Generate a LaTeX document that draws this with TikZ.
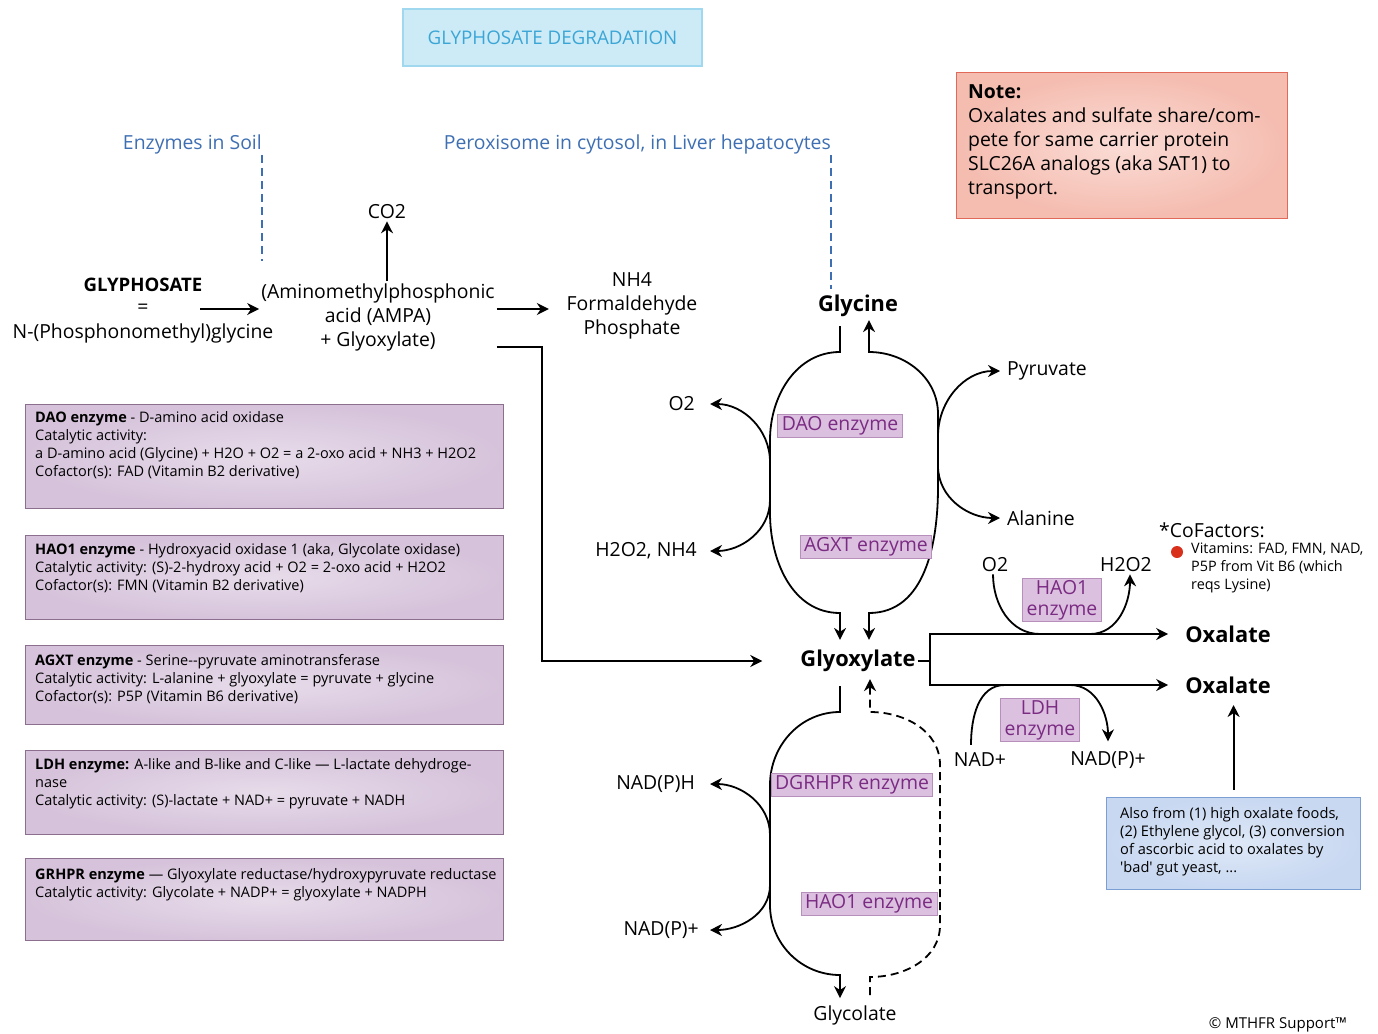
\documentclass[tikz,border=0pt]{standalone}
\usepackage{fontspec}
\setmainfont{Open Sans}
\usetikzlibrary{arrows.meta,positioning}

\definecolor{titlefill}{HTML}{CDEBF7}
\definecolor{titledraw}{HTML}{9FD8EF}
\definecolor{titletext}{HTML}{3BA6D6}
\definecolor{soilblue}{HTML}{3E6FB3}
\definecolor{notein}{HTML}{FADCD5}
\definecolor{noteout}{HTML}{F5BCB0}
\definecolor{notedraw}{HTML}{E0695A}
\definecolor{infoin}{HTML}{E7DCEA}
\definecolor{infoout}{HTML}{D6C3DB}
\definecolor{infodraw}{HTML}{8C6E8F}
\definecolor{enzfill}{HTML}{DCC0E0}
\definecolor{enzdraw}{HTML}{B78FBB}
\definecolor{enztext}{HTML}{7A2B82}
\definecolor{srcin}{HTML}{DEE8F7}
\definecolor{srcout}{HTML}{C8D8F1}
\definecolor{srcdraw}{HTML}{7C9FD3}
\definecolor{dotred}{HTML}{D9301C}

\newcommand\fsmain{\fontsize{19.4}{24}\selectfont}
\newcommand\fsenz{\fontsize{19.4}{21}\selectfont}
\newcommand\fsbold{\fontsize{21.8}{24}\selectfont\bfseries}
\newcommand\fsinfo{\fontsize{14.5}{18}\selectfont}
\newcommand\fssmall{\fontsize{14.4}{18}\selectfont}
\newcommand\fstitle{\fontsize{18.8}{20}\selectfont}

\begin{document}
\begin{tikzpicture}[x=1pt,y=1pt]
	\tikzset{arr/.style={-{Stealth[length=12pt,width=12pt]}, line width=1.8pt}}
	\tikzset{dblarr/.style={{Stealth[length=12pt,width=12pt]}-{Stealth[length=12pt,width=12pt]}, line width=1.8pt}}
	\tikzset{dashline/.style={soilblue, line width=1.2pt, dash pattern=on 8pt off 5pt}}
	\tikzset{chem/.style={font=\fsmain, inner sep=2pt}}
	\tikzset{mol/.style={font=\fsbold, inner sep=2pt}}
	\tikzset{enzbox/.style={draw=enzdraw, fill=enzfill, text=enztext, font=\fsenz,
				line width=1pt, inner xsep=4pt, inner ysep=2pt, align=center}}
	\tikzset{infobox/.style={draw=infodraw, inner color=infoin, outer color=infoout, line width=1.2pt,
				minimum width=478, anchor=north west}}
	\tikzset{infotext/.style={font=\fsinfo, align=left, anchor=north west, inner sep=0pt}}
	\tikzset{region/.style={font=\fsmain, text=soilblue, inner sep=1pt}}

	\useasboundingbox (0,0) rectangle (1378,-1033);

	% title and regions
	\node[draw=titledraw, fill=titlefill, text=titletext, font=\fstitle, line width=1.2pt,
		minimum width=299, minimum height=57] (title) at (552.5,-37.5) {GLYPHOSATE DEGRADATION};
	\node[region, anchor=east] (soil) at (263,-144) {Enzymes in Soil};
	\node[region, anchor=east] (perox) at (832,-144) {Peroxisome in cytosol, in Liver hepatocytes};
	\draw[dashline] ([xshift=-1]soil.south east) -- ++(0,-106);
	\draw[dashline] ([xshift=-1]perox.south east) -- ++(0,-134);

	% note
	\node[draw=notedraw, inner color=notein, outer color=noteout, line width=1.2pt,
		minimum width=331, minimum height=146, anchor=north west] (note) at (956,-72) {};
	\node[font=\fsmain, align=left, anchor=north west, inner sep=0pt] (notetxt)
		at ([xshift=12,yshift=-12]note.north west)
		{\textbf{Note:}\\Oxalates and sulfate share/com-\\pete for same carrier protein\\SLC26A analogs (aka SAT1) to\\transport.};

	% glyphosate to AMPA
	\node[chem, font=\fontsize{18.6}{24}\selectfont\bfseries] (glyph) at (143,-285) {GLYPHOSATE};
	\node[chem] (eqs) at (143,-309) {=};
	\node[chem] (nphos) at (143,-333) {N-(Phosphonomethyl)glycine};
	\node[chem, align=center] (ampa) at (378,-317) {(Aminomethylphosphonic\\acid (AMPA)\\+ Glyoxylate)};
	\node[chem] (co2) at (387,-212) {CO2};
	\node[chem, align=center] (prods) at (632,-306) {NH4\\Formaldehyde\\Phosphate};
	\coordinate (gstart) at (200,-309);
	\draw[arr] (gstart) -- (gstart -| ampa.west);
	\draw[arr] (ampa.north -| co2) -- (co2);
	\draw[arr] ([yshift=8]ampa.east) -- ++(52,0);

	% main molecules
	\node[mol] (glycine) at (858,-306) {Glycine};
	\node[mol] (glyox) at (858,-661) {Glyoxylate};
	\node[chem] (glycol) at (855,-1015) {Glycolate};
	\draw[arr] ([yshift=-30]ampa.east) -- ++(45,0) |- ([xshift=-36]glyox.west);

	% upper loop
	\draw[arr] ([xshift=-18,yshift=-7]glycine.south) -- (840,-352) to[out=180,in=90] (770,-440)
		-- (770,-513) to[out=-90,in=180] (840,-613) -- ([xshift=-18,yshift=8]glyox.north);
	\draw[dblarr] ([xshift=11,yshift=8]glyox.north) -- (869,-613) to[out=0,in=-90] (938,-487)
		-- (938,-414) to[out=90,in=0] (869,-352) -- ([xshift=11,yshift=-1]glycine.south);
	\node[enzbox] (dao) at (840,-426) {DAO enzyme};
	\node[enzbox] (agxt) at (866,-547) {AGXT enzyme};

	\node[chem, anchor=east] (o2a) at (697,-404) {O2};
	\node[chem, anchor=east] (hnh) at (699,-551) {H2O2, NH4};
	\node[chem, anchor=west] (pyr) at (1005,-371) {Pyruvate};
	\node[chem, anchor=west] (ala) at (1005,-518) {Alanine};
	\coordinate (ul1) at (770,-462);
	\coordinate (ul2) at (770,-500);
	\coordinate (ur1) at (938,-436);
	\coordinate (ur2) at (938,-466);
	\draw[arr] (ul1) to[out=90,in=0] ([xshift=13]o2a.east);
	\draw[arr] (ul2) to[out=-90,in=0] ([xshift=11]hnh.east);
	\draw[arr] (ur1) to[out=90,in=180] ([xshift=-5]pyr.west);
	\draw[arr] (ur2) to[out=-90,in=180] ([xshift=-5]ala.west);

	% lower loop
	\draw[arr] ([xshift=-18,yshift=-12]glyox.south) -- (840,-712) to[out=180,in=90] (770,-785)
		-- (770,-905) to[out=-90,in=180] (840,-975) -- ([xshift=-15,yshift=5]glycol.north);
	\draw[arr, dash pattern=on 8pt off 5pt] ([xshift=15,yshift=8]glycol.north) -- (870,-977)
		to[out=0,in=-90] (940,-925) -- (940,-765) to[out=90,in=0] (870,-712)
		-- ([xshift=12,yshift=-5]glyox.south);
	\node[enzbox] (dgrhpr) at (852,-785) {DGRHPR enzyme};
	\node[enzbox] (haoa) at (869,-904) {HAO1 enzyme};

	\node[chem, anchor=east] (nadph) at (697,-784) {NAD(P)H};
	\node[chem, anchor=east] (nadpa) at (701,-930) {NAD(P)+};
	\coordinate (ll1) at (770,-835);
	\coordinate (ll2) at (770,-885);
	\draw[arr] (ll1) to[out=90,in=0] ([xshift=13]nadph.east);
	\draw[arr] (ll2) to[out=-90,in=0] ([xshift=9]nadpa.east);

	% oxalate branches
	\node[mol] (oxa) at (1228,-634) {Oxalate};
	\node[mol] (oxb) at (1228,-685) {Oxalate};
	\coordinate (fork) at (930,-661);
	\draw[line width=1.8pt] (glyox.east) -- (fork);
	\draw[arr] (fork) |- ([xshift=-15]oxa.west);
	\draw[arr] (fork) |- ([xshift=-15]oxb.west);

	\node[chem] (o2b) at (995,-565) {O2};
	\node[chem] (h2o2b) at (1126,-565) {H2O2};
	\node[chem] (nadp) at (980,-760) {NAD+};
	\node[chem] (nadpb) at (1108,-760) {NAD(P)+};
	\draw[arr] ([xshift=-2]o2b.south) to[out=-90,in=180] (1040,0 |- oxa.west) -- (1090,0 |- oxa.west)
		to[out=0,in=-90] ([xshift=4]h2o2b.south);
	\draw[arr] ([xshift=-9,yshift=6]nadp.north) to[out=90,in=180] (1005,0 |- oxb.west)
		-- (1070,0 |- oxb.west) to[out=0,in=90] ([yshift=8]nadpb.north);
	\node[enzbox] (haob) at (1062,-600) {HAO1\\enzyme};
	\node[enzbox] (ldh) at (1040,-720) {LDH\\enzyme};

	% cofactors
	\node[chem, anchor=west] (cof) at (1157,-530) {*CoFactors:};
	\node[circle, fill=dotred, minimum size=12, inner sep=0pt] (dot) at (1177,-552) {};
	\node[font=\fssmall, align=left, anchor=north west, inner sep=0pt] (vit) at (1191,-543)
		{Vitamins: FAD, FMN, NAD,\\P5P from Vit B6 (which\\reqs Lysine)};

	% other sources
	\node[draw=srcdraw, inner color=srcin, outer color=srcout, line width=1.2pt,
		minimum width=254, minimum height=92, anchor=north west] (srcbox) at (1106,-797) {};
	\node[font=\fontsize{14.6}{18}\selectfont, align=left, anchor=north west, inner sep=0pt] (srctxt)
		at ([xshift=14,yshift=-10]srcbox.north west)
		{Also from (1) high oxalate foods,\\(2) Ethylene glycol, (3) conversion\\of ascorbic acid to oxalates by\\\textquotesingle bad\textquotesingle{} gut yeast, ...};
	\draw[arr] (srcbox.north) ++(0,7) -- ++(0,85);

	% enzyme info boxes
	\node[infobox, minimum height=104] (daoinfo) at (25,-404) {};
	\node[infotext] at ([xshift=10,yshift=-7]daoinfo.north west)
		{\textbf{DAO enzyme} - D-amino acid oxidase\\Catalytic activity:\\a D-amino acid (Glycine) + H2O + O2 = a 2-oxo acid + NH3 + H2O2\\Cofactor(s): FAD (Vitamin B2 derivative)};
	\node[infobox, minimum height=84] (haoinfo) at (25,-535) {};
	\node[infotext] at ([xshift=10,yshift=-8]haoinfo.north west)
		{\textbf{HAO1 enzyme} - Hydroxyacid oxidase 1 (aka, Glycolate oxidase)\\Catalytic activity: (S)-2-hydroxy acid + O2 = 2-oxo acid + H2O2\\Cofactor(s): FMN (Vitamin B2 derivative)};
	\node[infobox, minimum height=79] (agxtinfo) at (25,-645) {};
	\node[infotext] at ([xshift=10,yshift=-9]agxtinfo.north west)
		{\textbf{AGXT enzyme} - Serine-{}-pyruvate aminotransferase\\Catalytic activity: L-alanine + glyoxylate = pyruvate + glycine\\Cofactor(s): P5P (Vitamin B6 derivative)};
	\node[infobox, minimum height=84] (ldhinfo) at (25,-750) {};
	\node[infotext] at ([xshift=10,yshift=-8]ldhinfo.north west)
		{\textbf{LDH enzyme:} A-like and B-like and C-like — L-lactate dehydroge-\\nase\\Catalytic activity: (S)-lactate + NAD+ = pyruvate + NADH};
	\node[infobox, minimum height=82] (grhprinfo) at (25,-858) {};
	\node[infotext] at ([xshift=10,yshift=-10]grhprinfo.north west)
		{\textbf{GRHPR enzyme} — Glyoxylate reductase/hydroxypyruvate reductase\\Catalytic activity: Glycolate + NADP+ = glyoxylate + NADPH};

	\node[font=\fontsize{15}{18}\selectfont] (copy) at (1278,-1025) {© MTHFR Support™};
\end{tikzpicture}
\end{document}
